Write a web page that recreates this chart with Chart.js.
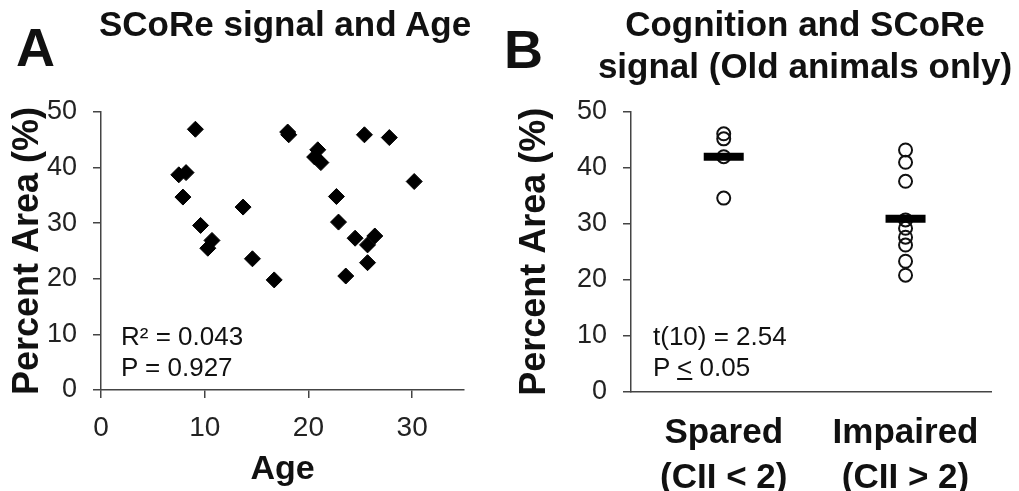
<!DOCTYPE html>
<html>
<head>
<meta charset="utf-8">
<script src="https://cdn.jsdelivr.net/npm/chart.js@4/dist/chart.umd.min.js"></script>
<style>
  html, body { margin: 0; padding: 0; background: #fff; }
  body { width: 1019px; height: 491px; position: relative; overflow: hidden;
         font-family: "Liberation Sans", Arial, sans-serif; color: #111; }
  .panel { position: absolute; top: 0; height: 491px; }
  #panelA { left: 0; width: 500px; }
  #panelB { left: 500px; width: 519px; }
  .txt { position: absolute; white-space: nowrap; }
  .letter { font-size: 54px; font-weight: bold; line-height: 54px; }
  .title { font-size: 35px; font-weight: bold; line-height: 42px; }
  .note { font-size: 26px; line-height: 31px; }
</style>
</head>
<body>
<div id="panelA" class="panel"><canvas id="ageChart"></canvas></div>
<div id="panelB" class="panel"><canvas id="cognitionChart"></canvas></div>

<div class="txt letter" style="left:16px; top:20px;">A</div>
<div class="txt title" style="left:99px; top:3px;">SCoRe signal and Age</div>
<div class="txt letter" style="left:504px; top:22px;">B</div>
<div class="txt title" style="left:590px; top:3px; width:430px; text-align:center;">Cognition and SCoRe<br>signal (Old animals only)</div>

<div class="txt note" style="left:121px; top:321px;">R² = 0.043<br>P = 0.927</div>
<div class="txt note" style="left:653px; top:321px;">t(10) = 2.54<br>P <u>&lt;</u> 0.05</div>

<script>
  // ---- Data ----
  const ageValues  = [9.1, 7.5, 8.2, 7.9, 9.6, 10.7, 10.3, 13.7, 14.6, 16.7, 18.0, 18.1,
                      20.9, 20.6, 21.2, 22.7, 22.9, 24.5, 23.6, 25.4, 25.7, 26.4, 25.7, 27.8, 30.2];
  const areaValues = [46.9, 38.7, 39.1, 34.7, 29.6, 26.9, 25.5, 32.9, 23.6, 19.8, 46.4, 45.9,
                      43.2, 41.9, 40.9, 34.8, 30.2, 27.3, 20.5, 45.9, 26.1, 27.7, 22.9, 45.4, 37.5];

  const groupLabels  = [['Spared', '(CII < 2)'], ['Impaired', '(CII > 2)']];
  const sparedArea   = [46.1, 45.2, 42.0, 34.6];
  const impairedArea = [43.2, 41.0, 37.6, 30.7, 29.2, 27.6, 26.2, 23.3, 20.8];
  const groupMeans   = [42.0, 30.9];

  const areaTicks = [0, 10, 20, 30, 40, 50];
  const ageTicks  = [0, 10, 20, 30];

  (function () {
    'use strict';

    const AXIS = '#444';
    const FONT = '"Liberation Sans", Arial, sans-serif';

    Chart.defaults.font.family = FONT;
    Chart.defaults.color = '#1a1a1a';
    Chart.defaults.animation = false;

    const setTicks = list => scale => { scale.ticks = list.map(v => ({ value: v })); };

    const yAxis = (width, titlePad) => ({
      min: 0,
      max: 50,
      afterBuildTicks: setTicks(areaTicks),
      afterFit: s => { s.width = width; },
      border: { display: true, color: AXIS, width: 1.5 },
      grid: { drawOnChartArea: false, drawTicks: true, tickLength: 8, color: AXIS, lineWidth: 1.5 },
      ticks: { padding: 16, font: { size: 27 }, color: '#222' },
      title: {
        display: true,
        text: 'Percent Area (%)',
        font: { size: 36, weight: 'bold' },
        color: '#111',
        padding: { top: titlePad, bottom: 0 }
      }
    });

    const commonPlugins = { legend: { display: false }, tooltip: { enabled: false } };

    // ---- Panel A: scatter ----
    new Chart(document.getElementById('ageChart'), {
      type: 'scatter',
      data: {
        datasets: [{
          data: ageValues.map((x, i) => ({ x, y: areaValues[i] })),
          pointStyle: 'rectRot',
          pointRadius: 8,
          backgroundColor: '#000',
          borderColor: '#000',
          borderWidth: 1
        }]
      },
      options: {
        responsive: true,
        maintainAspectRatio: false,
        layout: { padding: { top: 112, right: 36, left: 0, bottom: 0 } },
        plugins: commonPlugins,
        scales: {
          x: {
            type: 'linear',
            min: 0,
            max: 35,
            afterBuildTicks: setTicks(ageTicks),
            afterFit: s => { s.height = 101; },
            border: { display: true, color: AXIS, width: 1.5 },
            grid: { drawOnChartArea: false, drawTicks: true, tickLength: 8, color: AXIS, lineWidth: 1.5 },
            ticks: { padding: 13, font: { size: 28 }, color: '#222', maxRotation: 0 },
            title: {
              display: true,
              text: 'Age',
              font: { size: 34, weight: 'bold' },
              color: '#111',
              padding: { top: 0, bottom: 1 }
            }
          },
          y: yAxis(101, 6)
        }
      }
    });

    // ---- Panel B: group dot plot with mean bars ----
    new Chart(document.getElementById('cognitionChart'), {
      type: 'scatter',
      data: {
        datasets: [
          {
            data: groupMeans.map((y, i) => ({ x: i + 1, y })),
            pointStyle: 'line',
            pointRadius: 20,
            borderColor: '#000',
            borderWidth: 8
          },
          {
            data: sparedArea.map(y => ({ x: 1, y }))
              .concat(impairedArea.map(y => ({ x: 2, y }))),
            pointStyle: 'circle',
            pointRadius: 6.5,
            backgroundColor: 'rgba(255,255,255,0)',
            borderColor: '#111',
            borderWidth: 2
          }
        ]
      },
      options: {
        responsive: true,
        maintainAspectRatio: false,
        layout: { padding: { top: 112, right: 0, left: 0, bottom: 0 } },
        plugins: commonPlugins,
        scales: {
          x: {
            type: 'linear',
            min: 0.49,
            max: 2.47,
            afterBuildTicks: setTicks([1, 2]),
            afterFit: s => { s.height = 99.5; },
            border: { display: true, color: AXIS, width: 1.5 },
            grid: { drawOnChartArea: false, drawTicks: false },
            ticks: {
              padding: 19,
              maxRotation: 0,
              font: { size: 35, weight: 'bold', lineHeight: 1.3 },
              color: '#111',
              callback: v => groupLabels[v - 1] || ''
            }
          },
          y: yAxis(131, 13)
        }
      }
    });
  })();
</script>
</body>
</html>
